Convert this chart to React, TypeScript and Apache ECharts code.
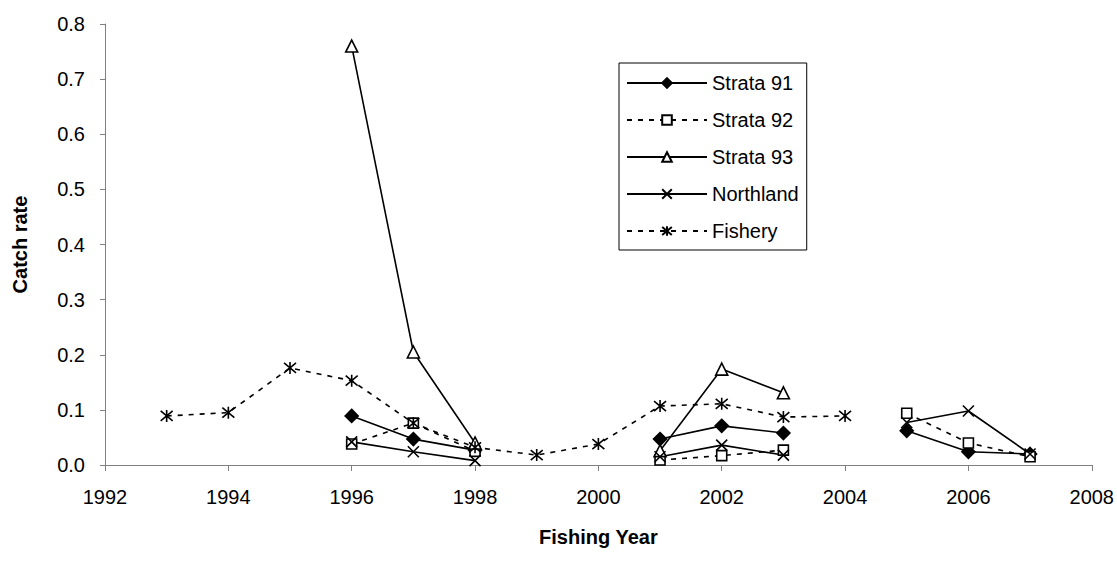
import React, { useEffect, useRef } from "react";
import * as echarts from "echarts";

const years = [1993, 1994, 1995, 1996, 1997, 1998, 1999, 2000, 2001, 2002, 2003, 2004, 2005, 2006, 2007];
const strata91 = [null, null, null, 0.089, 0.047, 0.027, null, null, 0.047, 0.071, 0.058, null, 0.062, 0.024, 0.02];
const strata92 = [null, null, null, 0.038, 0.076, 0.025, null, null, 0.009, 0.017, 0.027, null, 0.094, 0.04, 0.015];
const strata93 = [null, null, null, 0.76, 0.205, 0.04, null, null, 0.026, 0.174, 0.131, null, null, null, null];
const northland = [null, null, null, 0.042, 0.024, 0.008, null, null, 0.015, 0.036, 0.018, null, 0.077, 0.098, 0.02];
const fishery = [0.089, 0.095, 0.176, 0.153, 0.076, 0.032, 0.018, 0.038, 0.107, 0.111, 0.087, 0.089, null, null, null];

const CROSS = "path://M0,0L10,10M10,0L0,10";
const ASTER = "path://M0,0L10,10M10,0L0,10M5,-1L5,11";

const toPairs = (vals: (number | null)[]) =>
  years.map((y, i) => [y, vals[i] === null ? "-" : vals[i]]);

export default function App() {
  const ref = useRef<HTMLDivElement>(null);
  useEffect(() => {
    if (!ref.current) return;
    const chart = echarts.init(ref.current, null, { renderer: "svg" });
    const font = "'Liberation Sans', Arial, sans-serif";
    const mk = (
      name: string,
      vals: (number | null)[],
      symbol: string,
      symbolSize: number,
      dashed: boolean,
      fill: string
    ) => ({
      name,
      type: "line",
      data: toPairs(vals),
      symbol,
      symbolSize,
      showSymbol: true,
      connectNulls: false,
      lineStyle: { color: "#000", width: 1.6, type: dashed ? [5, 6] : "solid" },
      itemStyle: { color: fill, borderColor: "#000", borderWidth: 1.6 },
      emphasis: { disabled: true },
    });
    chart.setOption({
      animation: false,
      backgroundColor: "#fff",
      grid: { left: 105, right: 24, top: 24, bottom: 98, containLabel: false },
      legend: {
        orient: "vertical",
        left: 619,
        top: 63,
        itemWidth: 80,
        itemHeight: 12,
        itemGap: 17,
        padding: [10, 8, 9, 7],
        borderColor: "#000",
        borderWidth: 1,
        textStyle: { fontFamily: font, fontSize: 20, color: "#000", lineHeight: 20 },
        data: ["Strata 91", "Strata 92", "Strata 93", "Northland", "Fishery"],
      },
      xAxis: {
        type: "value",
        min: 1992,
        max: 2008,
        interval: 2,
        name: "Fishing Year",
        nameLocation: "middle",
        nameGap: 62,
        nameTextStyle: { fontFamily: font, fontSize: 20, fontWeight: "bold", color: "#000" },
        axisLine: { lineStyle: { color: "#808080", width: 1 } },
        axisTick: { show: true, length: 6, inside: false, lineStyle: { color: "#808080" } },
        axisLabel: {
          fontFamily: font,
          fontSize: 20,
          color: "#000",
          margin: 22,
          formatter: (v: number) => String(v),
        },
        splitLine: { show: false },
      },
      yAxis: {
        type: "value",
        min: 0,
        max: 0.8,
        interval: 0.1,
        name: "Catch rate",
        nameLocation: "middle",
        nameGap: 75,
        nameTextStyle: { fontFamily: font, fontSize: 20, fontWeight: "bold", color: "#000" },
        axisLine: { show: true, lineStyle: { color: "#808080", width: 1 } },
        axisTick: { show: true, length: 5, lineStyle: { color: "#808080" } },
        axisLabel: {
          fontFamily: font,
          fontSize: 20,
          color: "#000",
          margin: 20,
          formatter: (v: number) => v.toFixed(1),
        },
        splitLine: { show: false },
      },
      series: [
        mk("Strata 91", strata91, "diamond", 13, false, "#000"),
        mk("Strata 92", strata92, "rect", 10, true, "#fff"),
        mk("Strata 93", strata93, "triangle", 12, false, "#fff"),
        mk("Northland", northland, CROSS, 11, false, "none"),
        mk("Fishery", fishery, ASTER, 12, true, "none"),
      ],
    });
    return () => chart.dispose();
  }, []);
  return (
    <div
      ref={ref}
      style={{ position: "fixed", left: 0, top: 0, width: 1117, height: 563, background: "#fff" }}
    />
  );
}
